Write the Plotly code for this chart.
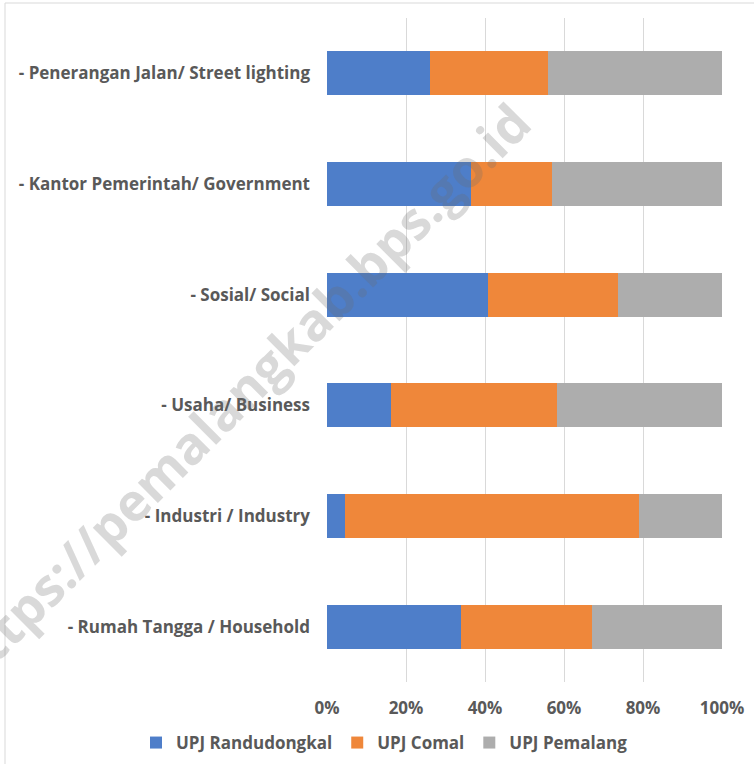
import plotly.graph_objects as go

categories = [
    "- Rumah Tangga / Household",
    "- Industri / Industry",
    "- Usaha/ Business",
    "- Sosial/ Social",
    "- Kantor Pemerintah/ Government",
    "- Penerangan Jalan/ Street lighting",
]
randudongkal = [33.9, 4.6, 16.3, 40.8, 36.5, 26.2]
comal = [33.2, 74.4, 41.9, 32.8, 20.5, 29.8]
pemalang = [32.9, 21.0, 41.8, 26.4, 43.0, 44.0]
series_names = ["UPJ Randudongkal", "UPJ Comal", "UPJ Pemalang"]
colors = ["#4E7EC9", "#EF873A", "#ADADAD"]
tick_vals = [0, 20, 40, 60, 80, 100]
tick_labels = ["0%", "20%", "40%", "60%", "80%", "100%"]

W, H = 754, 764
L, R, T, B = 327, 32, 18, 82
pw, ph = W - L - R, H - T - B

fig = go.Figure()
for name, vals, col in zip(series_names, [randudongkal, comal, pemalang], colors):
    fig.add_trace(go.Bar(
        y=categories, x=vals, name=name, orientation="h",
        marker=dict(color=col, line=dict(width=0)),
    ))

font_family = "'Open Sans', sans-serif"
txt_col = "#595959"
FS = 17

def px_x(p):
    return (p - L) / pw

def px_y(p):
    return 1 - (p - T) / ph

fig.update_layout(
    width=W, height=H,
    margin=dict(l=L, r=R, t=T, b=B, autoexpand=False),
    barmode="stack",
    bargap=0.6,
    plot_bgcolor="white",
    paper_bgcolor="white",
    font=dict(family=font_family, color=txt_col, size=FS),
    showlegend=True,
    legend=dict(
        orientation="h", xref="paper", x=px_x(136), xanchor="left",
        yref="paper", y=px_y(743), yanchor="middle",
        traceorder="normal",
        font=dict(size=FS, family=font_family, color=txt_col, weight="bold"),
        itemwidth=30,
        bgcolor="rgba(0,0,0,0)",
    ),
    xaxis=dict(
        range=[0, 100], tickvals=tick_vals, ticktext=tick_labels,
        showgrid=True, gridcolor="#D9D9D9", gridwidth=1,
        zeroline=False, showline=False, ticks="",
        ticklabelstandoff=14, automargin=False,
        tickfont=dict(size=FS, family=font_family, color=txt_col, weight="bold"),
        fixedrange=True,
    ),
    yaxis=dict(
        showgrid=False, zeroline=False, showline=False, ticks="",
        ticklabelstandoff=16, automargin=False,
        tickfont=dict(size=FS, family=font_family, color=txt_col, weight="bold"),
        fixedrange=True,
    ),
    shapes=[
        dict(type="rect", xref="paper", yref="paper",
             x0=px_x(5), x1=px_x(800), y0=px_y(800), y1=px_y(3),
             line=dict(color="#D9D9D9", width=1), fillcolor="rgba(0,0,0,0)",
             layer="below"),
    ],
    annotations=[
        dict(text="https://pemalangkab.bps.go.id", xref="paper", yref="paper",
             x=px_x(238), y=px_y(393), xanchor="center", yanchor="middle",
             showarrow=False, textangle=-45,
             font=dict(size=52, family="'Open Sans', sans-serif",
                       color="rgba(110,110,110,0.26)", weight="bold")),
    ],
)

fig.write_html(
    "out.html",
    config={"displayModeBar": False},
    post_script="document.body.style.margin='0';document.body.style.padding='0';",
)
